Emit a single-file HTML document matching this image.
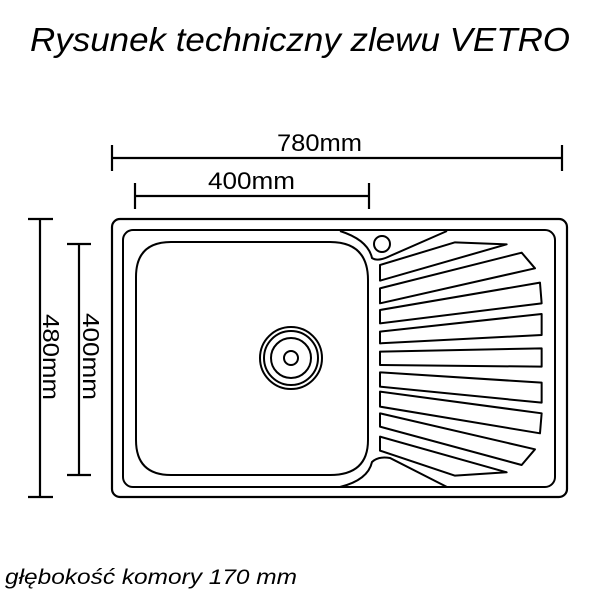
<!DOCTYPE html>
<html><head><meta charset="utf-8"><style>
html,body{margin:0;padding:0;background:#fff;}
svg{display:block;}
text{font-family:"Liberation Sans",sans-serif;fill:#000;}
</style></head><body>
<svg width="600" height="600" viewBox="0 0 600 600" xmlns="http://www.w3.org/2000/svg">
<text x="30" y="51" font-size="33" font-style="italic" textLength="540" lengthAdjust="spacingAndGlyphs">Rysunek techniczny zlewu VETRO</text>
<g stroke="#000" stroke-width="2.2" fill="none">
<line x1="112" y1="158" x2="562" y2="158"/><line x1="112" y1="145" x2="112" y2="171"/><line x1="562" y1="145" x2="562" y2="171"/>
<line x1="135" y1="196" x2="369" y2="196"/><line x1="135" y1="183" x2="135" y2="209"/><line x1="369" y1="183" x2="369" y2="209"/>
<line x1="40" y1="219" x2="40" y2="497"/><line x1="28" y1="219" x2="53" y2="219"/><line x1="28" y1="497" x2="53" y2="497"/>
<line x1="79" y1="244" x2="79" y2="475"/><line x1="67" y1="244" x2="91" y2="244"/><line x1="67" y1="475" x2="91" y2="475"/>
<rect x="112" y="219" width="455" height="278" rx="8"/>
<rect x="123" y="230" width="432" height="257" rx="10" stroke-width="2"/>
<path d="M171 242 L330 242 Q368 242 368 280 L368 440 Q368 475 330 475 L171 475 Q136 475 136 440 L136 277 Q136 242 171 242 Z" stroke-width="2"/>
<path d="M340 231 Q368 240 372 258 Q378 262 390 256 L447 231" stroke-width="2"/>
<path d="M340 487 Q368 480 372 462 Q378 456 390 458 L447 487" stroke-width="2"/>
<circle cx="382" cy="244" r="8" stroke-width="2"/>
<g stroke-width="2">
<circle cx="291" cy="358" r="31"/><circle cx="291" cy="358" r="27"/><circle cx="291" cy="358" r="20"/><circle cx="291" cy="358" r="7"/>
</g>
<g transform="translate(340,210) scale(0.3333)" stroke-width="6" stroke-linejoin="round">
<polygon points="120,165 345,97 500,103 120,212"/>
<polygon points="120,235 545,128 585,175 120,280"/>
<polygon points="120,300 600,218 605,280 120,340"/>
<polygon points="120,365 605,312 605,375 120,400"/>
<polygon points="120,425 605,415 605,470 120,465"/>
<polygon points="120,487 605,518 605,578 120,530"/>
<polygon points="120,545 605,610 600,670 120,590"/>
<polygon points="120,610 585,718 545,765 120,650"/>
<polygon points="120,680 500,787 345,797 120,722"/>
</g>
</g>
<text x="277" y="151" font-size="24" textLength="85" lengthAdjust="spacingAndGlyphs">780mm</text>
<text x="208" y="189" font-size="24" textLength="87" lengthAdjust="spacingAndGlyphs">400mm</text>
<text transform="translate(43,314) rotate(90)" font-size="23" textLength="86" lengthAdjust="spacingAndGlyphs">480mm</text>
<text transform="translate(83,313) rotate(90)" font-size="23" textLength="87" lengthAdjust="spacingAndGlyphs">400mm</text>
<text x="5" y="584" font-size="21" font-style="italic" textLength="292" lengthAdjust="spacingAndGlyphs">głębokość komory 170 mm</text>
</svg>
</body></html>
